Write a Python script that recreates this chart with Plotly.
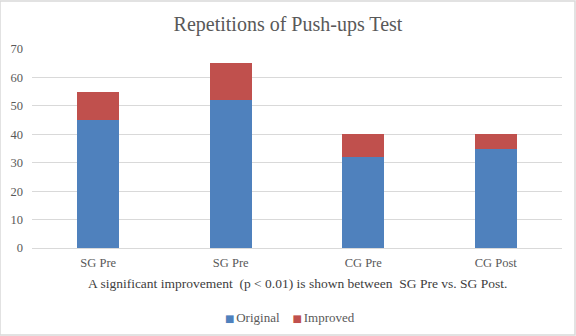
import plotly.graph_objects as go

categories = ["SG Pre", "SG Pre", "CG Pre", "CG Post"]
original = [45, 52, 32, 35]
improved = [10, 13, 8, 5]
yticks = [0, 10, 20, 30, 40, 50, 60, 70]
series_names = ["Original", "Improved"]
series_colors = ["#4F81BD", "#C0504D"]

xpos = list(range(len(categories)))
FONT = "Liberation Serif"
GRAY = "#595959"

fig = go.Figure()
for name, vals, col in zip(series_names, [original, improved], series_colors):
    fig.add_trace(go.Bar(x=xpos, y=vals, name=name, marker_color=col,
                         marker_line_width=0, showlegend=False))

legend_text = "    ".join(
    f"<span style='color:{c}; font-family:DejaVu Sans; font-size:10px'>■</span>"
    f"<span style='font-size:7px'> </span>{n}"
    for n, c in zip(series_names, series_colors))

fig.update_layout(
    barmode="stack",
    bargap=0.68,
    width=576, height=336,
    margin=dict(l=32, r=14, t=49, b=88, autoexpand=False),
    paper_bgcolor="white", plot_bgcolor="white",
    font=dict(family=FONT, size=12, color=GRAY),
    title=dict(text="Repetitions of Push-ups Test", x=0.5, xanchor="center",
               y=1 - 24 / 336, yanchor="middle",
               font=dict(family=FONT, size=20, color=GRAY)),
    xaxis=dict(tickmode="array", tickvals=xpos, ticktext=categories,
               range=[-0.5, 3.5], showgrid=False, zeroline=False,
               showline=False, ticks="", tickfont=dict(size=12.5, color=GRAY),
               ticklabelstandoff=5),
    yaxis=dict(range=[0, 70], tickvals=yticks, showgrid=True, gridcolor="#d9d9d9",
               gridwidth=1, zeroline=True, zerolinecolor="#d9d9d9", zerolinewidth=1,
               showline=False, ticks="", tickfont=dict(size=12.5, color=GRAY),
               ticklabelstandoff=8),
    showlegend=False,
    annotations=[
        dict(text="A significant improvement  (p < 0.01) is shown between  SG Pre vs. SG Post.",
             xref="paper", yref="paper", x=0.5, y=-0.176, xanchor="center",
             yanchor="middle", showarrow=False,
             font=dict(family=FONT, size=13.5, color="#404040")),
        dict(text=legend_text, xref="paper", yref="paper", x=(290 - 32) / 530,
             y=(248 - 317) / 199, xanchor="center", yanchor="middle", showarrow=False,
             font=dict(family=FONT, size=13, color=GRAY)),
    ],
    shapes=[dict(type="rect", xref="paper", yref="paper", x0=-32/530, x1=1+13/530,
                 y0=-87/199, y1=1+48/199, line=dict(color="#d9d9d9", width=1.5),
                 layer="below")],
)

fig.write_html("out.html")
